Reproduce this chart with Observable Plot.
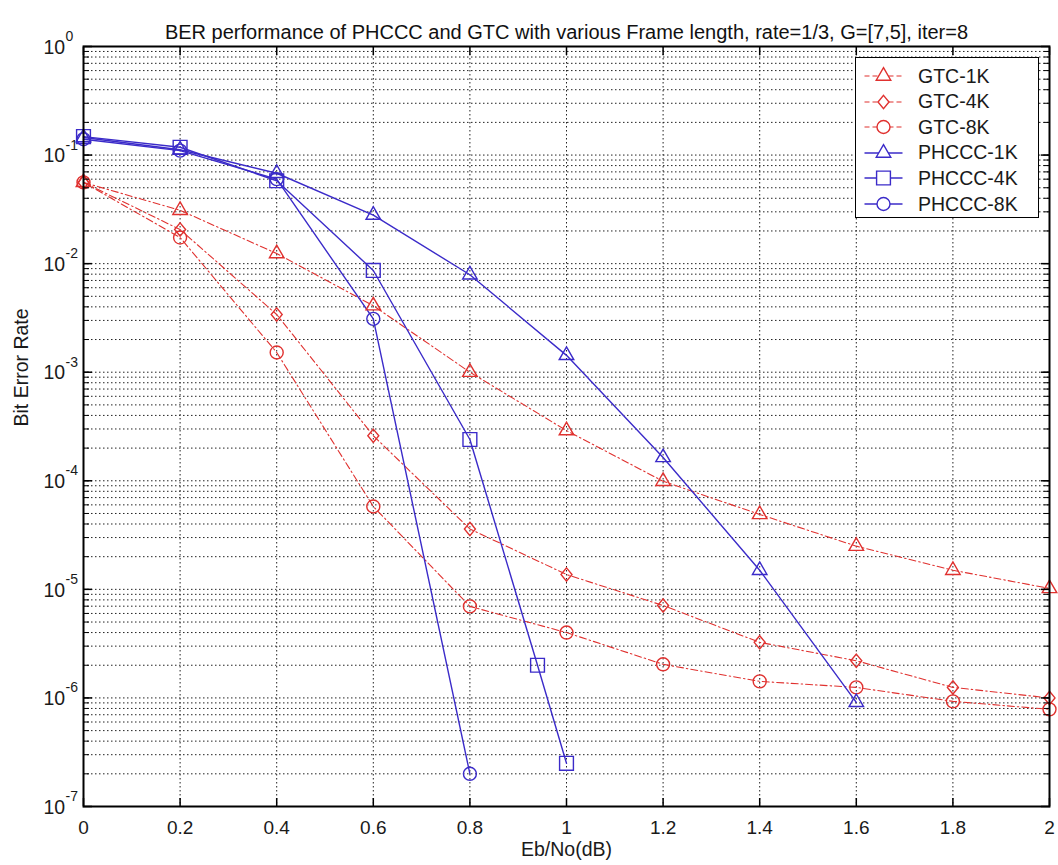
<!DOCTYPE html>
<html><head><meta charset="utf-8">
<script src="https://cdn.jsdelivr.net/npm/d3@7"></script>
<script src="https://cdn.jsdelivr.net/npm/@observablehq/plot@0.6"></script>
<style>
body{margin:0;background:#fff;font-family:"Liberation Sans",Arial,sans-serif;}
#wrap{position:relative;width:1058px;height:865px;}
#legend{position:absolute;left:855px;top:57px;width:182px;height:159px;border:1.5px solid #000;background:#fff;}
.lrow{position:absolute;left:0;height:24px;display:flex;align-items:center;font-size:19.5px;color:#1a1a1a;}
</style></head><body><div id="wrap"><div id="legend"></div></div>
<script>
// ---- data ----
const titleText = "BER performance of PHCCC and GTC with various Frame length, rate=1/3, G=[7,5], iter=8";
const xLabel = "Eb/No(dB)";
const yLabel = "Bit Error Rate";
const ebno = [0, 0.2, 0.4, 0.6, 0.8, 1.0, 1.2, 1.4, 1.6, 1.8, 2.0];
const gtc1k = [0.056, 0.031, 0.0124, 0.0041, 1.0e-3, 2.9e-4, 9.9e-5, 4.9e-5, 2.5e-5, 1.5e-5, 1.02e-5];
const gtc4k = [0.056, 0.0206, 0.0034, 2.6e-4, 3.6e-5, 1.37e-5, 7.1e-6, 3.25e-6, 2.2e-6, 1.25e-6, 1.0e-6];
const gtc8k = [0.056, 0.0174, 0.00152, 5.8e-5, 6.97e-6, 4.0e-6, 2.04e-6, 1.42e-6, 1.25e-6, 9.3e-7, 7.85e-7];
const phccc1kX = [0, 0.2, 0.4, 0.6, 0.8, 1.0, 1.2, 1.4, 1.6];
const phccc1k = [0.145, 0.112, 0.068, 0.028, 0.0079, 1.43e-3, 1.64e-4, 1.5e-5, 9.1e-7];
const phccc4kX = [0, 0.2, 0.4, 0.6, 0.8, 0.94, 1.0];
const phccc4k = [0.148, 0.118, 0.058, 0.00865, 2.4e-4, 2.0e-6, 2.5e-7];
const phccc8kX = [0, 0.2, 0.4, 0.6, 0.8];
const phccc8k = [0.14, 0.11, 0.06, 0.0031, 2.0e-7];
const xTicks = [0, 0.2, 0.4, 0.6, 0.8, 1, 1.2, 1.4, 1.6, 1.8, 2];
const xTickLabels = ["0", "0.2", "0.4", "0.6", "0.8", "1", "1.2", "1.4", "1.6", "1.8", "2"];
const yTicks = [1e-7, 1e-6, 1e-5, 1e-4, 1e-3, 1e-2, 1e-1, 1];
const yTickExp = ["-7", "-6", "-5", "-4", "-3", "-2", "-1", "0"];

const RED = "#e0312f", BLUE = "#3b2bc9";
// wider diamond like MATLAB's
const diamondSym = {draw(ctx, size) { const r = Math.sqrt(size / Math.PI); ctx.moveTo(0, -1.33 * r); ctx.lineTo(1.1 * r, 0); ctx.lineTo(0, 1.33 * r); ctx.lineTo(-1.1 * r, 0); ctx.closePath(); }};
const symMap = {triangle: d3.symbolTriangle, diamond: diamondSym, circle: d3.symbolCircle, square: d3.symbolSquare};
const series = [
  {name: "GTC-1K", xs: ebno, ys: gtc1k, color: RED, dash: "7,3,1.5,3", symbol: "triangle", r: 5.4},
  {name: "GTC-4K", xs: ebno, ys: gtc4k, color: RED, dash: "7,3,1.5,3", symbol: "diamond", r: 5},
  {name: "GTC-8K", xs: ebno, ys: gtc8k, color: RED, dash: "7,3,1.5,3", symbol: "circle", r: 6.5},
  {name: "PHCCC-1K", xs: phccc1kX, ys: phccc1k, color: BLUE, dash: null, symbol: "triangle", r: 5.4},
  {name: "PHCCC-4K", xs: phccc4kX, ys: phccc4k, color: BLUE, dash: null, symbol: "square", r: 7.8},
  {name: "PHCCC-8K", xs: phccc8kX, ys: phccc8k, color: BLUE, dash: null, symbol: "circle", r: 6.5}
];
const tables = series.map(s => s.xs.map((x, i) => ({x, y: s.ys[i], name: s.name})));

const minorY = [];
for (let k = -7; k <= -1; k++) for (let m = 1; m <= 9; m++) minorY.push(m * Math.pow(10, k));
minorY.push(1);

const gridStyle = {stroke: "#222", strokeOpacity: 1, strokeDasharray: "1.5,2.5", strokeWidth: 1};

const marks = [
  Plot.gridY(minorY, gridStyle),
  Plot.gridX(xTicks, gridStyle),
  ...series.map((s, i) => Plot.line(tables[i], {x: "x", y: "y", stroke: s.color, strokeWidth: s.dash ? 1.1 : 1.4, strokeDasharray: s.dash})),
  ...series.map((s, i) => Plot.dot(tables[i], {x: "x", y: "y", symbol: () => symMap[s.symbol], r: s.r, stroke: s.color, fill: "none", strokeWidth: 1.4})),
  Plot.frame({stroke: "#000", strokeWidth: 2}),
  // inward minor/major ticks
  Plot.axisY(minorY, {anchor: "left", tickSize: -6, fill: "none", label: null}),
  Plot.axisY(minorY, {anchor: "right", tickSize: -6, fill: "none", label: null}),
  Plot.axisY(yTicks, {anchor: "left", tickSize: -9, fill: "none", label: null, strokeWidth: 1.5}),
  Plot.axisY(yTicks, {anchor: "right", tickSize: -9, fill: "none", label: null, strokeWidth: 1.5}),
  Plot.axisX(xTicks, {anchor: "bottom", tickSize: -8, fill: "none", label: null, strokeWidth: 1.5}),
  Plot.axisX(xTicks, {anchor: "top", tickSize: -8, fill: "none", label: null, strokeWidth: 1.5}),
  // x tick labels
  Plot.axisX(xTicks, {anchor: "bottom", tickSize: 0, tickPadding: 14, fontSize: 19, fill: "#1a1a1a", label: null,
    tickFormat: d => xTickLabels[xTicks.indexOf(d)]}),
  // y tick labels: "10" + superscript exponent
  Plot.text(yTicks, {y: d => d, frameAnchor: "left", dx: -40, dy: 1, textAnchor: "start", text: () => "10", fontSize: 19.5, fill: "#1a1a1a"}),
  Plot.text(yTicks, {y: d => d, frameAnchor: "left", dx: -18, dy: -10, textAnchor: "start", text: (d, i) => yTickExp[i], fontSize: 14, fill: "#1a1a1a"}),
  // title and axis labels
  Plot.text([titleText], {frameAnchor: "top", dy: -22, text: d => d, fontSize: 20, fill: "#111"}),
  Plot.text([xLabel], {frameAnchor: "bottom", dy: 49, text: d => d, fontSize: 19.5, fill: "#1a1a1a"}),
  Plot.text([yLabel], {frameAnchor: "left", dx: -62, rotate: -90, text: d => d, fontSize: 19.5, fill: "#1a1a1a"})
];

const chart = Plot.plot({
  width: 1058, height: 865,
  marginLeft: 83, marginRight: 9, marginTop: 46, marginBottom: 59,
  style: {fontFamily: "'Liberation Sans', Arial, sans-serif", background: "#fff"},
  x: {domain: [0, 2], axis: null},
  y: {type: "log", domain: [1e-7, 1], axis: null},
  marks
});
document.getElementById("wrap").prepend(chart);

// legend
const legend = d3.select("#legend");
series.forEach((s, i) => {
  const row = legend.append("div").attr("class", "lrow").style("top", (6 + i * 25.6) + "px");
  const svg = row.append("svg").attr("width", 62).attr("height", 24);
  svg.append("line").attr("x1", 8.5).attr("x2", 46.5).attr("y1", 12).attr("y2", 12)
    .attr("stroke", s.color).attr("stroke-width", s.dash ? 1.1 : 1.4).attr("stroke-dasharray", s.dash ? "5,3" : null);
  svg.append("path").attr("transform", "translate(27.5,12)")
    .attr("d", d3.symbol(symMap[s.symbol], Math.PI * s.r * s.r)())
    .attr("fill", "#fff").attr("stroke", s.color).attr("stroke-width", 1.4);
  row.append("span").text(s.name);
});
</script></body></html>
